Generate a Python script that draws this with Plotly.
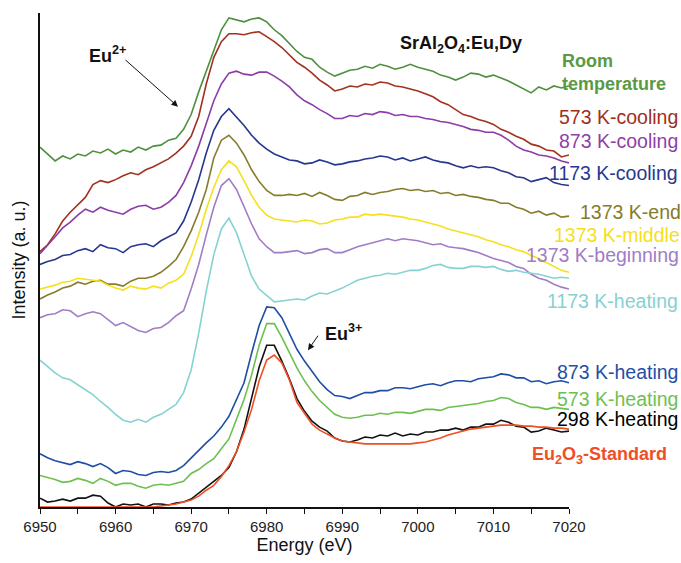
import plotly.graph_objects as go

# Energy grid (eV), 1 eV steps
energy = list(range(6950, 7021))

# Stacked intensities (a. u.) (6950 ... 7020)
room_temp = [365, 358, 351, 356, 353, 358, 356, 361, 359, 363, 358, 362, 360, 365, 362, 366, 367, 372, 374,
             383, 398, 421, 442, 462, 484, 496, 494, 492, 495, 496, 492, 484, 478, 470, 462,
             456, 454, 446, 441, 437, 440, 443, 444, 447, 445, 449, 447, 444, 446, 449, 446, 444, 442,
             438, 436, 433, 436, 440, 439, 436, 438, 435, 432, 428, 424, 420, 426, 423, 427, 425, 427]
k573_cool = [259, 266, 277, 290, 299, 306, 314, 327, 331, 329, 332, 336, 339, 337, 342, 345, 349, 353, 359,
             366, 376, 396, 429, 456, 472, 480, 480, 479, 481, 482, 477, 472, 466, 459, 451,
             446, 440, 433, 428, 422, 424, 427, 426, 429, 428, 431, 430, 427, 426, 424, 422, 419, 416,
             411, 408, 403, 398, 396, 393, 391, 388, 383, 380, 376, 373, 368, 366, 362, 361, 355, 357]
k873_cool = [257, 265, 274, 283, 289, 296, 302, 299, 304, 301, 299, 297, 302, 305, 306, 302, 304, 309, 316,
             329, 346, 366, 389, 412, 429, 440, 442, 439, 438, 441, 441, 437, 432, 426, 418,
             412, 408, 403, 399, 394, 394, 397, 396, 399, 398, 401, 400, 397, 398, 396, 396, 394, 393,
             391, 390, 388, 386, 383, 382, 380, 380, 377, 372, 366, 362, 360, 357, 356, 354, 351, 349]
k1173_cool = [246, 249, 251, 255, 256, 260, 262, 259, 266, 263, 262, 258, 264, 266, 267, 264, 270, 274, 278,
              290, 309, 332, 359, 382, 396, 404, 396, 387, 377, 369, 363, 358, 355, 352, 351,
              348, 349, 352, 350, 347, 348, 350, 351, 353, 354, 356, 355, 352, 354, 351, 353, 355, 352,
              350, 349, 346, 344, 346, 344, 345, 344, 341, 339, 335, 334, 330, 332, 334, 329, 327, 326]
k1373_end = [211, 215, 218, 222, 224, 228, 226, 229, 230, 226, 226, 224, 229, 232, 232, 234, 238, 244, 251,
             264, 280, 299, 322, 354, 372, 377, 369, 357, 342, 330, 321, 316, 316, 317, 316,
             318, 315, 319, 316, 312, 311, 315, 316, 319, 317, 319, 320, 322, 323, 321, 322, 320, 321,
             318, 319, 316, 317, 315, 314, 312, 311, 308, 308, 304, 302, 298, 300, 296, 298, 294, 295]
k1373_mid = [221, 223, 225, 228, 229, 232, 231, 230, 229, 225, 222, 220, 224, 222, 221, 224, 222, 227, 230,
             236, 254, 276, 302, 324, 342, 351, 345, 331, 316, 304, 296, 292, 291, 290, 289,
             291, 290, 287, 288, 291, 292, 294, 294, 297, 296, 297, 296, 295, 294, 292, 291, 289, 287,
             285, 282, 280, 278, 276, 274, 271, 269, 266, 264, 261, 259, 255, 252, 248, 244, 240, 238]
k1373_beg = [192, 195, 196, 200, 199, 193, 196, 198, 196, 190, 184, 187, 183, 179, 177, 181, 182, 187, 194,
             199, 221, 246, 276, 304, 326, 333, 322, 304, 287, 272, 264, 258, 258, 259, 260,
             257, 258, 261, 262, 258, 258, 261, 264, 266, 268, 270, 272, 270, 272, 271, 270, 268, 266,
             267, 264, 263, 262, 260, 258, 255, 252, 250, 248, 244, 242, 236, 232, 230, 226, 223, 221]
k1173_heat = [149, 142, 136, 131, 129, 124, 119, 114, 107, 101, 94, 88, 86, 89, 86, 91, 94, 99, 104,
              116, 139, 176, 219, 256, 282, 293, 278, 256, 234, 221, 214, 208, 209, 210, 211,
              210, 214, 217, 216, 219, 222, 226, 230, 232, 234, 235, 237, 236, 238, 240, 240, 242, 245,
              246, 243, 242, 242, 244, 244, 243, 244, 241, 239, 240, 238, 237, 236, 234, 232, 233, 232]
k873_heat = [54, 50, 47, 45, 43, 46, 44, 41, 44, 40, 34, 37, 36, 33, 32, 35, 36, 35, 37,
             42, 50, 57, 65, 72, 81, 92, 109, 126, 156, 184, 203, 202, 192, 176, 160,
             148, 137, 127, 119, 113, 112, 110, 113, 116, 116, 118, 118, 121, 121, 120, 122, 124, 125,
             123, 126, 128, 128, 127, 130, 131, 132, 135, 134, 131, 131, 127, 128, 125, 127, 128, 126]
k573_heat = [32, 30, 28, 25, 26, 29, 27, 24, 29, 26, 22, 24, 24, 21, 19, 22, 23, 22, 24,
             26, 34, 38, 44, 49, 59, 69, 89, 109, 134, 164, 186, 186, 172, 157, 141,
             128, 117, 108, 101, 94, 91, 90, 91, 93, 93, 95, 94, 96, 96, 95, 97, 99, 99,
             98, 101, 102, 103, 104, 105, 107, 108, 111, 110, 106, 104, 101, 101, 99, 101, 100, 99]
k298_heat = [9, 5, 6, 8, 6, 9, 9, 12, 11, 4, 0, 3, 2, 3, 0, 3, 3, 2, 4,
             5, 8, 14, 20, 26, 32, 40, 56, 79, 109, 142, 164, 164, 148, 130, 110,
             97, 87, 81, 77, 70, 67, 66, 68, 71, 70, 73, 72, 75, 72, 74, 73, 76, 76,
             78, 78, 80, 78, 81, 81, 84, 84, 88, 86, 82, 81, 76, 77, 80, 78, 76, 77]
eu2o3_std = [0, 0, 0, 0, 0, 0, 0, 0, 0, 0, 0, 0, 0, 0, 0, 0, 1, 2, 3,
             5, 7, 11, 17, 22, 31, 42, 56, 76, 99, 128, 149, 154, 146, 129, 106,
             95, 84, 78, 74, 70, 67, 66, 65, 64, 64, 64, 64, 64, 64, 64, 65, 66, 68,
             70, 73, 75, 77, 79, 80, 81, 82, 83, 83, 83, 82, 82, 81, 81, 80, 80, 79]

x_ticks = [6950, 6960, 6970, 6980, 6990, 7000, 7010, 7020]

series = [
    ("Room temperature", room_temp, "#4f8f3f"),
    ("573 K-cooling", k573_cool, "#a0321f"),
    ("873 K-cooling", k873_cool, "#8b3ca8"),
    ("1173 K-cooling", k1173_cool, "#27378f"),
    ("1373 K-end", k1373_end, "#867c2c"),
    ("1373 K-middle", k1373_mid, "#f6e01c"),
    ("1373 K-beginning", k1373_beg, "#a27cc6"),
    ("1173 K-heating", k1173_heat, "#86d2d2"),
    ("873 K-heating", k873_heat, "#1f4ea6"),
    ("573 K-heating", k573_heat, "#6dbf50"),
    ("298 K-heating", k298_heat, "#111111"),
    ("Eu2O3-Standard", eu2o3_std, "#f04e23"),
]

W, H = 681, 563
L, R, T, B = 40, 112, 13, 49
PW, PH = W - L - R, H - T - B


def px(xp):
    return (xp - L) / PW


def py(yp):
    return (H - B - yp) / PH


fig = go.Figure()
for name, vals, col in series:
    fig.add_trace(go.Scatter(x=energy, y=vals, mode="lines", name=name,
                             line=dict(color=col, width=1.6), showlegend=False))

FONT = "Liberation Sans, Arial, Helvetica, sans-serif"
labels = [
    ("<b>Room</b>", 560, 62, "#5a9a44", 18),
    ("<b>temperature</b>", 560, 85, "#5a9a44", 18),
    ("573 K-cooling", 557, 118, "#9e2f1c", 19.5),
    ("873 K-cooling", 557, 143, "#8e3fa8", 19.5),
    ("1173 K-cooling", 547, 175, "#28388f", 19.5),
    ("1373 K-end", 578, 215, "#857b2b", 19.5),
    ("1373 K-middle", 552, 238, "#f5df1c", 19.5),
    ("1373 K-beginning", 524, 258, "#a07dc4", 19.5),
    ("1173 K-heating", 545, 305, "#86d1d1", 19.5),
    ("873 K-heating", 555, 377, "#1f4fa6", 19.5),
    ("573 K-heating", 555, 404, "#6ebf52", 19.5),
    ("298 K-heating", 555, 425, "#000000", 19.5),
    ("<b>Eu<sub>2</sub>O<sub>3</sub>-Standard</b>", 530, 462, "#f04e23", 18),
    ("<b>SrAl<sub>2</sub>O<sub>4</sub>:Eu,Dy</b>", 398, 45, "#111111", 18),
    ("<b>Eu<sup>2+</sup></b>", 87, 55, "#111111", 18),
    ("<b>Eu<sup>3+</sup></b>", 323, 337, "#111111", 18),
]
for text, xl, yc, col, sz in labels:
    fig.add_annotation(text=text, x=px(xl), y=py(yc), xref="paper", yref="paper",
                       xanchor="left", yanchor="middle", showarrow=False,
                       font=dict(family=FONT, size=sz, color=col))

# arrows (head position, tail position in pixels)
for (hx, hy, tx, ty) in [(178, 108, 124, 60), (308, 355, 319, 339)]:
    fig.add_annotation(x=px(hx), y=py(hy), ax=tx - hx, ay=ty - hy, xref="paper", yref="paper",
                       axref="pixel", ayref="pixel", text="", showarrow=True,
                       arrowhead=2, arrowsize=1.3, arrowwidth=1, arrowcolor="#111111")

fig.update_layout(
    width=W, height=H,
    margin=dict(l=L, r=R, t=T, b=B),
    paper_bgcolor="white", plot_bgcolor="white",
    font=dict(family=FONT, color="#111111"),
    xaxis=dict(range=[6950, 7020], tickvals=x_ticks, ticks="outside", ticklen=5, tickwidth=1.2,
               tickcolor="#111111", showline=True, linecolor="#111111", linewidth=1.5,
               showgrid=False, zeroline=False, tickfont=dict(size=15, color="#222222"),
               minor=dict(dtick=5, tick0=6950, ticks="outside", ticklen=5, tickwidth=1.2,
                          tickcolor="#111111", showgrid=False),
               title=dict(text="Energy (eV)", font=dict(size=18), standoff=4)),
    yaxis=dict(range=[0, 501], showticklabels=False, ticks="", showline=True,
               linecolor="#111111", linewidth=1.5, showgrid=False, zeroline=False,
               title=dict(text="Intensity (a. u.)", font=dict(size=18), standoff=8)),
)

fig.write_html("out.html", config={"displayModeBar": False},
               post_script="document.body.style.margin='0';document.body.style.padding='0';")
